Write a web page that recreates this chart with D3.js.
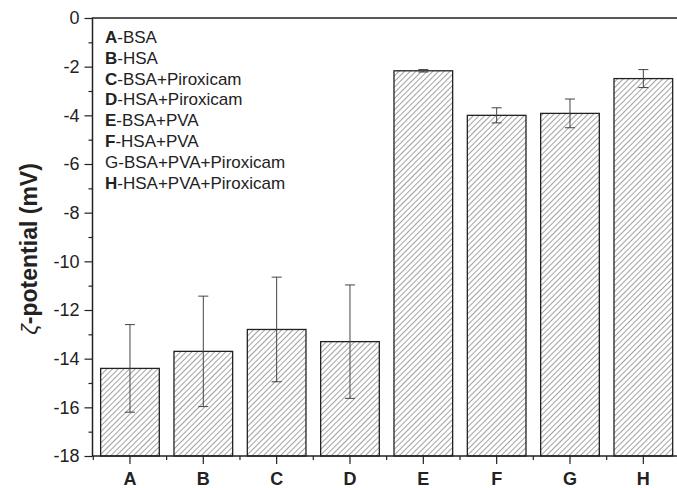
<!doctype html>
<html>
<head>
<meta charset="utf-8">
<title>Zeta potential</title>
<script src="https://cdn.jsdelivr.net/npm/d3@7/dist/d3.min.js"></script>
<style>
body { margin: 0; background: #fff; }
text { font-family: Arial, "Liberation Sans", sans-serif; fill: #222; }
</style>
</head>
<body>
<div id="chart-area"></div>
<script>
// data
var categories = ["A", "B", "C", "D", "E", "F", "G", "H"];
var zeta = [-14.4, -13.7, -12.8, -13.3, -2.17, -4.0, -3.92, -2.49];
var zetaErr = [1.8, 2.27, 2.15, 2.33, 0.05, 0.31, 0.59, 0.37];
var yTicks = [0, -2, -4, -6, -8, -10, -12, -14, -16, -18];
var legendLetters = ["A", "B", "C", "D", "E", "F", "G", "H"];
var legendNames = ["BSA", "HSA", "BSA+Piroxicam", "HSA+Piroxicam", "BSA+PVA", "HSA+PVA", "BSA+PVA+Piroxicam", "HSA+PVA+Piroxicam"];
var legendBold = [true, true, true, true, true, true, false, true];

var W = 677, H = 488;
var plotLeft = 92.5, plotTop = 18, plotBottom = 456, plotRight = 680;

var svg = d3.select("#chart-area").append("svg").attr("width", W).attr("height", H);

// hatch
var pat = svg.append("defs").append("pattern")
    .attr("id", "hatch").attr("patternUnits", "userSpaceOnUse")
    .attr("width", 4).attr("height", 4)
    .attr("patternTransform", "rotate(45)");
pat.append("rect").attr("width", 4).attr("height", 4).attr("fill", "#fff");
pat.append("line").attr("x1", 0).attr("y1", 0).attr("x2", 0).attr("y2", 4)
    .attr("stroke", "#555").attr("stroke-width", 1.1);

var x = d3.scaleBand().domain(categories).range([plotLeft + 0.8, plotRight]).paddingInner(0.2).paddingOuter(0.1);
var y = d3.scaleLinear().domain([-18, 0]).range([plotBottom, plotTop]);

var rows = categories.map(function(c, i){ return { cat: c, v: zeta[i], e: zetaErr[i] }; });

// bars
svg.selectAll("rect.bar").data(rows).enter().append("rect")
    .attr("class", "bar")
    .attr("x", function(d){ return x(d.cat); })
    .attr("width", x.bandwidth())
    .attr("y", function(d){ return y(d.v); })
    .attr("height", function(d){ return y(-18) - y(d.v); })
    .attr("fill", "url(#hatch)")
    .attr("stroke", "#222").attr("stroke-width", 1.3);

// error bars
var eb = svg.selectAll("g.err").data(rows).enter().append("g").attr("class", "err")
    .attr("stroke", "#444").attr("stroke-width", 1);
eb.append("line")
    .attr("x1", function(d){ return x(d.cat) + x.bandwidth() / 2; })
    .attr("x2", function(d){ return x(d.cat) + x.bandwidth() / 2; })
    .attr("y1", function(d){ return y(d.v + d.e); })
    .attr("y2", function(d){ return y(d.v - d.e); });
[1, -1].forEach(function(s){
    eb.append("line")
        .attr("x1", function(d){ return x(d.cat) + x.bandwidth() / 2 - 5; })
        .attr("x2", function(d){ return x(d.cat) + x.bandwidth() / 2 + 5; })
        .attr("y1", function(d){ return y(d.v + s * d.e); })
        .attr("y2", function(d){ return y(d.v + s * d.e); });
});

// Y axis
var yAxisCall = d3.axisLeft(y).tickValues(yTicks).tickSize(8).tickPadding(5).tickFormat(function(d){ return d; });
var yAxis = svg.append("g").attr("transform", "translate(" + plotLeft + ",0)").call(yAxisCall);
yAxis.select(".domain").remove();
yAxis.selectAll("line").attr("stroke", "#222").attr("stroke-width", 1.2);
yAxis.selectAll("text").attr("font-size", "18px").attr("fill", "#222");

var yMinor = d3.axisLeft(y).tickValues(d3.range(-17, 0, 2)).tickSize(4).tickFormat("");
var ym = svg.append("g").attr("transform", "translate(" + plotLeft + ",0)").call(yMinor);
ym.select(".domain").remove();
ym.selectAll("line").attr("stroke", "#222").attr("stroke-width", 1.2);

// X axis
var xAxisCall = d3.axisBottom(x).tickSize(8).tickPadding(8);
var xAxis = svg.append("g").attr("transform", "translate(0," + plotBottom + ")").call(xAxisCall);
xAxis.select(".domain").remove();
xAxis.selectAll("line").attr("stroke", "#222").attr("stroke-width", 1.2);
xAxis.selectAll("text").attr("font-size", "18px").attr("font-weight", "bold").attr("fill", "#222");

var xm = svg.append("g").attr("transform", "translate(0," + plotBottom + ")");
xm.selectAll("line").data(categories).enter().append("line")
    .attr("x1", function(d){ return x(d) - x.step() * x.paddingInner() / 2; })
    .attr("x2", function(d){ return x(d) - x.step() * x.paddingInner() / 2; })
    .attr("y1", 0).attr("y2", 4)
    .attr("stroke", "#222").attr("stroke-width", 1.2);

// frame
svg.append("path")
    .attr("d", "M" + W + "," + plotTop + "H" + plotLeft + "V" + plotBottom + "H" + W)
    .attr("fill", "none").attr("stroke", "#222").attr("stroke-width", 1.5);

// y label
svg.append("text")
    .attr("transform", "translate(37," + 249 + ") rotate(-90)")
    .attr("text-anchor", "middle")
    .attr("font-size", "23px").attr("font-weight", "bold")
    .html('<tspan font-style="italic" font-weight="normal">ζ</tspan>-potential (mV)');

// legend
var legend = svg.append("g").attr("transform", "translate(105,43)");
legendLetters.forEach(function(l, i){
    var t = legend.append("text").attr("x", 0).attr("y", i * 20.8).attr("font-size", "17px");
    t.append("tspan").attr("font-weight", legendBold[i] ? "bold" : "normal").text(l);
    t.append("tspan").text("-" + legendNames[i]);
});
</script>
</body>
</html>
